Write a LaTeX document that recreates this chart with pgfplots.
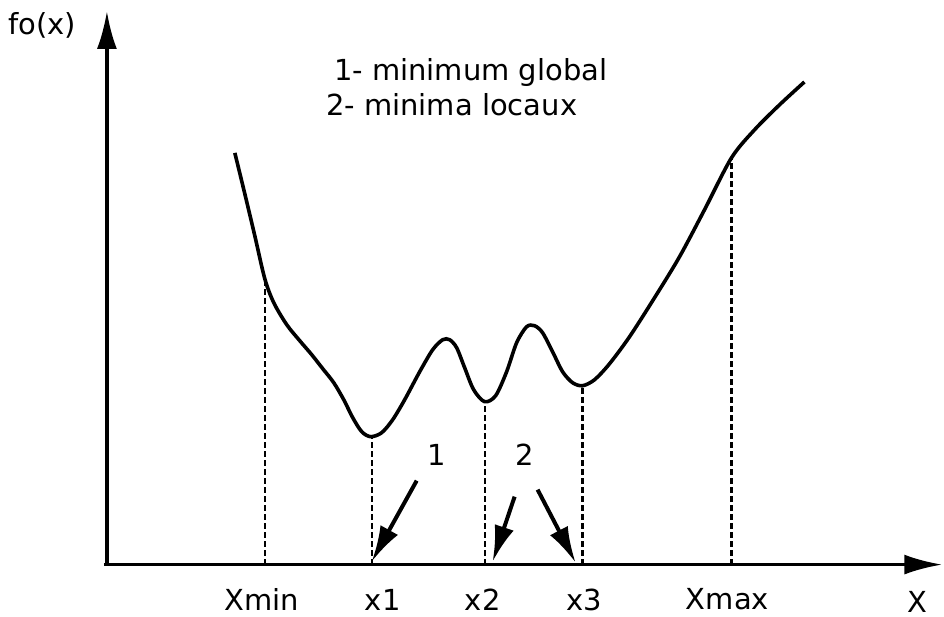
\documentclass[border=0pt]{standalone}
\usepackage{fontspec}
\setmainfont{DejaVu Sans}
\usepackage{pgfplots}
\pgfplotsset{compat=1.18}
\usetikzlibrary{arrows.meta}
\begin{document}
\begin{tikzpicture}
\begin{axis}[
    scale only axis,
    width=472pt, height=308.5pt,
    xmin=0, xmax=944, ymin=0, ymax=617,
    hide axis, clip=false,
]
\path (axis cs:0,0) rectangle (axis cs:944,617);
% axes
\addplot[line width=1.7pt, -{Latex[length=19pt,width=10pt]}] coordinates {(107,52) (107,606)};
\addplot[line width=1.7pt, -{Latex[length=19pt,width=10pt]}] coordinates {(104,52) (943,52)};
% curve
\addplot[line width=1.8pt, smooth, tension=0.5] coordinates {
 (235,464) (245,423) (255,381) (265,338) (274,314) (287,292)
 (300,276) (312,262) (323,248) (334,234) (344,217) (353,199) (362,185) (371,180)
 (382,184) (393,197) (405,217) (420,245) (433,267) (443,277) (450,277)
 (457,269) (465,249) (474,227) (485,215) (496,221) (507,245) (517,274)
 (527,290) (535,291) (543,284) (553,265) (563,245) (573,234) (583,231)
 (595,237) (610,253) (630,280) (655,319) (680,360) (705,407) (732,459)
 (755,487) (780,512) (805,535)
};
% dashed verticals
\addplot[line width=1.1pt, dash pattern=on 3pt off 1.5pt] coordinates {(265,52) (265,338)};
\addplot[line width=1.1pt, dash pattern=on 3pt off 1.5pt] coordinates {(372,52) (372,180)};
\addplot[line width=1.1pt, dash pattern=on 3pt off 1.5pt] coordinates {(485,52) (485,215)};
\addplot[line width=1.1pt, dash pattern=on 3pt off 1.5pt] coordinates {(583,52) (583,231)};
\addplot[line width=1.1pt, dash pattern=on 3pt off 1.5pt] coordinates {(732,52) (732,459)};
% pointer arrows
\addplot[line width=2pt, -{Latex[length=18pt,width=10pt]}] coordinates {(417,136) (372,55)};
\addplot[line width=2pt, -{Latex[length=18pt,width=10pt]}] coordinates {(515,120) (493,55)};
\addplot[line width=2pt, -{Latex[length=18pt,width=10pt]}] coordinates {(538,127) (576,54)};
% texts
\begin{scope}[every node/.style={font=\fontsize{14.5}{17}\selectfont, inner sep=0pt}]
\node at (axis cs:437,162) {1};
\node at (axis cs:525,162) {2};
\node[anchor=west] at (axis cs:334,544) {1- minimum global};
\node[anchor=west] at (axis cs:326,512) {2- minima locaux};
\node at (axis cs:42,592) {fo(x)};
\node at (axis cs:262,17) {Xmin};
\node at (axis cs:383,17) {x1};
\node at (axis cs:483,17) {x2};
\node at (axis cs:585,17) {x3};
\node at (axis cs:728,17) {Xmax};
\node at (axis cs:918,15) {X};
\end{scope}
\end{axis}
\end{tikzpicture}
\end{document}
